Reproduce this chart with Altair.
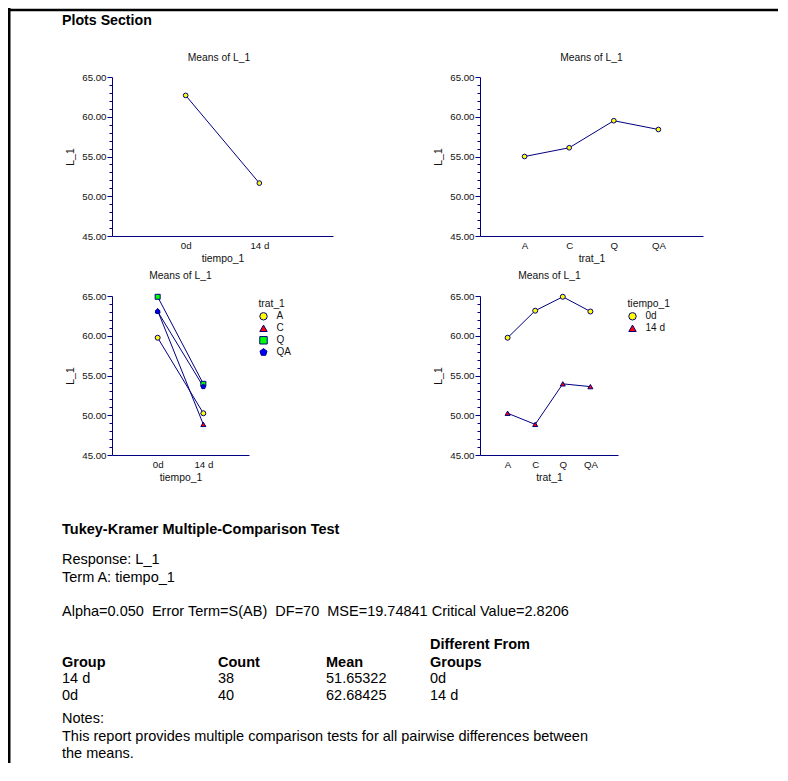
import altair as alt
import pandas as pd

# ---------------- data ----------------
tiempo = ["0d", "14 d"]
trat = ["A", "C", "Q", "QA"]
tiempo_means = [62.68425, 51.65322]
trat_means = [55.0, 56.1, 59.5, 58.4]
cell_0d = [59.75, 63.15, 64.9, 63.05]
cell_14d = [50.25, 48.85, 53.95, 53.6]

y_major = [45, 50, 55, 60, 65]
y_minor = [46, 47, 48, 49, 51, 52, 53, 54, 56, 57, 58, 59, 61, 62, 63, 64]

groups = ["14 d", "0d"]
counts = ["38", "40"]
group_means = ["51.65322", "62.68425"]
diff_from = ["0d", "14 d"]

# ---------------- style / layout ----------------
FONT = "Liberation Sans"
NAVY = "#000080"
TXT = "#111111"
W, H = 770, 755
FS = 14.5

trat_fill = ["#FFFF00", "#FF0000", "#00FF00", "#0000FF"]
PENTA = "M0,-1L0.951,-0.309L0.588,0.809L-0.588,0.809L-0.951,-0.309Z"
trat_shape = ["circle", "triangle-up", "square", PENTA]
tiempo_fill = ["#FFFF00", "#FF0000"]
tiempo_shape = ["circle", "triangle-up"]

df1 = pd.DataFrame({"tiempo_1": tiempo, "L_1": tiempo_means})
df2 = pd.DataFrame({"trat_1": trat, "L_1": trat_means})
rows = []
for t, vals in zip(tiempo, [cell_0d, cell_14d]):
    for g, v in zip(trat, vals):
        rows.append({"tiempo_1": t, "trat_1": g, "L_1": v})
df34 = pd.DataFrame(rows)
df3 = df34.sort_values(["trat_1", "tiempo_1"]).reset_index(drop=True)
df4 = df34.copy()
df3["order"] = [trat.index(g) for g in df3["trat_1"]]
df4["order"] = [tiempo.index(t) for t in df4["tiempo_1"]]


def yscale(yr):
    return alt.Scale(domain=[45, 65], range=list(yr), zero=False, nice=False)


def xscale(domain, xr):
    return alt.Scale(type="point", domain=domain, range=list(xr), padding=1)


def y_major_axis(xr):
    return alt.Axis(orient="left", offset=-xr[0], values=y_major, format=".2f",
                    tickSize=5, labelPadding=1, title="L_1", titleX=-42,
                    titleBaseline="middle", grid=False)


def y_minor_axis(xr):
    return alt.Axis(orient="left", offset=-xr[0], values=y_minor, tickSize=3,
                    labels=False, domain=False, title=None, grid=False)


def x_axis(yr, title):
    return alt.Axis(orient="bottom", offset=yr[0] - H, ticks=False, labelAngle=0,
                    labelPadding=4, title=title, titleY=22, titleBaseline="middle",
                    grid=False)


def simple_panel(df, field, domain, xr, yr):
    base = alt.Chart(df)
    line = base.mark_line(color=NAVY, strokeWidth=1).encode(
        x=alt.X(f"{field}:N", scale=xscale(domain, xr), axis=x_axis(yr, field)),
        y=alt.Y("L_1:Q", scale=yscale(yr), axis=y_major_axis(xr)),
    )
    pts = base.mark_point(filled=True, fill="#FFFF00", stroke=NAVY, strokeWidth=1,
                          opacity=1, shape="circle", size=22).encode(
        x=alt.X(f"{field}:N", scale=xscale(domain, xr), axis=None),
        y=alt.Y("L_1:Q", scale=yscale(yr), axis=y_minor_axis(xr)),
    )
    return [line, pts]


def group_panel(df, field, domain, group, gdomain, fills, shapes, xr, yr, lx, ly):
    base = alt.Chart(df)
    line = base.mark_line(color=NAVY, strokeWidth=1).encode(
        x=alt.X(f"{field}:N", scale=xscale(domain, xr), axis=x_axis(yr, field)),
        y=alt.Y("L_1:Q", scale=yscale(yr), axis=y_major_axis(xr)),
        detail=f"{group}:N",
    )
    leg = alt.Legend(orient="none", legendX=lx, legendY=ly, title=group,
                     titleFont=FONT, titleFontSize=10.3, titleFontWeight="normal",
                     titleColor=TXT, titlePadding=2, labelFont=FONT, labelFontSize=10,
                     labelColor=TXT, labelOffset=8, symbolSize=55,
                     symbolStrokeWidth=1, rowPadding=0, padding=0)
    pts = base.mark_point(filled=True, strokeWidth=1, opacity=1, size=25).encode(
        x=alt.X(f"{field}:N", scale=xscale(domain, xr), axis=None),
        y=alt.Y("L_1:Q", scale=yscale(yr), axis=y_minor_axis(xr)),
        fill=alt.Fill(f"{group}:N", scale=alt.Scale(domain=gdomain, range=fills), legend=leg),
        shape=alt.Shape(f"{group}:N", scale=alt.Scale(domain=gdomain, range=shapes), legend=leg),
        stroke=alt.Stroke(f"{group}:N", scale=alt.Scale(domain=gdomain, range=[NAVY] * len(gdomain)), legend=leg),
        order=alt.Order("order:Q"),
    )
    return [line, pts]


def txt(s, x, y, size=FS, bold=False, color="black", align="left"):
    return alt.Chart(pd.DataFrame({"t": [s]})).mark_text(
        align=align, baseline="middle", font=FONT, fontSize=size,
        fontWeight="bold" if bold else "normal", color=color,
    ).encode(x=alt.value(x), y=alt.value(y), text="t:N")


P1 = ((104, 325), (228, 69))
P2 = ((472, 695), (228, 69))
P3 = ((104, 241), (447, 288))
P4 = ((472, 610), (447, 288))

layers = []
layers += simple_panel(df1, "tiempo_1", tiempo, *P1)
layers += simple_panel(df2, "trat_1", trat, *P2)
layers += group_panel(df3, "tiempo_1", tiempo, "trat_1", trat, trat_fill, trat_shape,
                      *P3, 250.5, 291)
layers += group_panel(df4, "trat_1", trat, "tiempo_1", tiempo, tiempo_fill, tiempo_shape,
                      *P4, 619.5, 291)

# panel titles
layers += [
    txt("Means of L_1", 211, 49.5, size=10.3, color=TXT, align="center"),
    txt("Means of L_1", 583.5, 49.5, size=10.3, color=TXT, align="center"),
    txt("Means of L_1", 172.5, 268, size=10.3, color=TXT, align="center"),
    txt("Means of L_1", 541.5, 268, size=10.3, color=TXT, align="center"),
]

# report text
LX = 54
layers += [
    txt("Plots Section", LX, 12.5, size=14.2, bold=True),
    txt("Tukey-Kramer Multiple-Comparison Test", LX, 522, bold=True),
    txt("Response: L_1", LX, 552),
    txt("Term A: tiempo_1", LX, 570),
    txt("Alpha=0.050\u00a0 Error Term=S(AB)\u00a0 DF=70\u00a0 MSE=19.74841 Critical Value=2.8206", LX, 604),
    txt("Different From", 422, 637, bold=True),
    txt("Group", LX, 655, bold=True),
    txt("Count", 210, 655, bold=True),
    txt("Mean", 318, 655, bold=True),
    txt("Groups", 422, 655, bold=True),
]
for i in range(len(groups)):
    yy = 671 + 17 * i
    layers += [txt(groups[i], LX, yy), txt(counts[i], 210, yy),
               txt(group_means[i], 318, yy), txt(diff_from[i], 422, yy)]
layers += [
    txt("Notes:", LX, 711),
    txt("This report provides multiple comparison tests for all pairwise differences between", LX, 729),
    txt("the means.", LX, 746),
]

# page frame (full-width / full-height rules)
frame = pd.DataFrame({"a": [0]})
layers += [
    alt.Chart(frame).mark_rule(color="black", strokeWidth=2.5).encode(y=alt.value(2)),
    alt.Chart(frame).mark_rule(color="black", strokeWidth=2.5).encode(x=alt.value(1.25)),
]

chart = alt.layer(*layers).resolve_scale(
    x="independent", y="independent", fill="independent", shape="independent",
    stroke="independent",
).resolve_axis(
    x="independent", y="independent"
).resolve_legend(
    fill="independent", shape="independent", stroke="independent"
).properties(
    width=W, height=H, padding=0, autosize=alt.AutoSizeParams(type="none"),
    background="white",
).configure_view(strokeWidth=0).configure_axis(
    labelFont=FONT, labelFontSize=9.7, labelColor=TXT,
    titleFont=FONT, titleFontSize=10.4, titleFontWeight="normal", titleColor=TXT,
    domainColor=NAVY, tickColor=NAVY, domainWidth=1, tickWidth=1,
)

chart.save("out.html", embed_options={"renderer": "svg", "actions": False})
